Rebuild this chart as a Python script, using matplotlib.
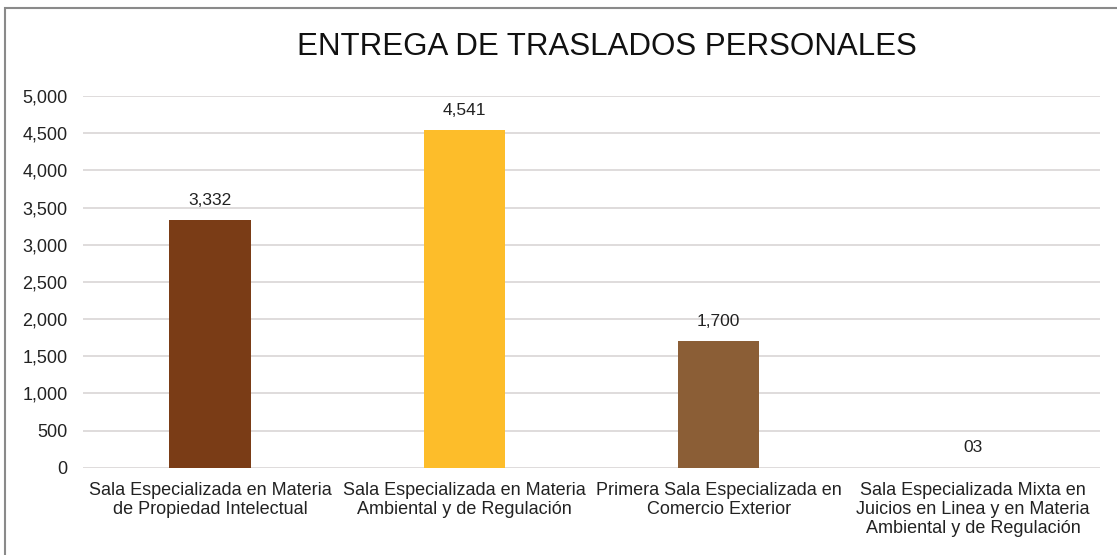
import matplotlib
matplotlib.use('Agg')
import matplotlib.pyplot as plt
from matplotlib.patches import Rectangle
from matplotlib.ticker import FuncFormatter

plt.rcParams['font.family'] = ['Liberation Sans', 'DejaVu Sans']

categorias = ['Sala Especializada en Materia\nde Propiedad Intelectual',
              'Sala Especializada en Materia\nAmbiental y de Regulación',
              'Primera Sala Especializada en\nComercio Exterior',
              'Sala Especializada Mixta en\nJuicios en Linea y en Materia\nAmbiental y de Regulación']
valores = [3332, 4541, 1700, 3]
etiquetas = ['3,332', '4,541', '1,700', '03']
colores = ['#7a3c16', '#fdbd2a', '#8b5e36', '#c9d3e0']
yticks = [0, 500, 1000, 1500, 2000, 2500, 3000, 3500, 4000, 4500, 5000]

fig = plt.figure(figsize=(11.17, 5.55), dpi=100)
ax = fig.add_axes([0.0743, 0.157, 0.9105, 0.670])

x = range(len(categorias))
ax.bar(x, valores, width=0.32, color=colores, zorder=3)
for i, v in enumerate(valores):
    ax.annotate(etiquetas[i], (i, v), xytext=(0, 9), textcoords='offset points',
                ha='center', va='bottom', fontsize=12.5, color='#222222')

ax.set_xlim(-0.5, 3.5)
ax.set_ylim(0, 5000)
ax.set_yticks(yticks)
ax.yaxis.set_major_formatter(FuncFormatter(lambda v, p: '{:,.0f}'.format(v)))
ax.set_xticks(list(x))
ax.set_xticklabels(categorias, fontsize=13, color='#222222', linespacing=1.15)
ax.tick_params(axis='y', labelsize=13, colors='#222222', length=0, pad=11)
ax.tick_params(axis='x', length=0, pad=10)
ax.yaxis.grid(True, color='#d9d6d6', linewidth=1.2, zorder=0)
for s in ax.spines.values():
    s.set_visible(False)

fig.text(0.543, 0.915, 'ENTREGA DE TRASLADOS PERSONALES', ha='center', va='center',
         fontsize=22.5, color='#111111')

fig.patches.append(Rectangle((5 / 1117, -0.01), 1.02, 1.01 - 8 / 555, transform=fig.transFigure,
                             fill=False, edgecolor='#8a8a8a', linewidth=1.5))

plt.savefig('out.png', dpi=100)
plt.close()
